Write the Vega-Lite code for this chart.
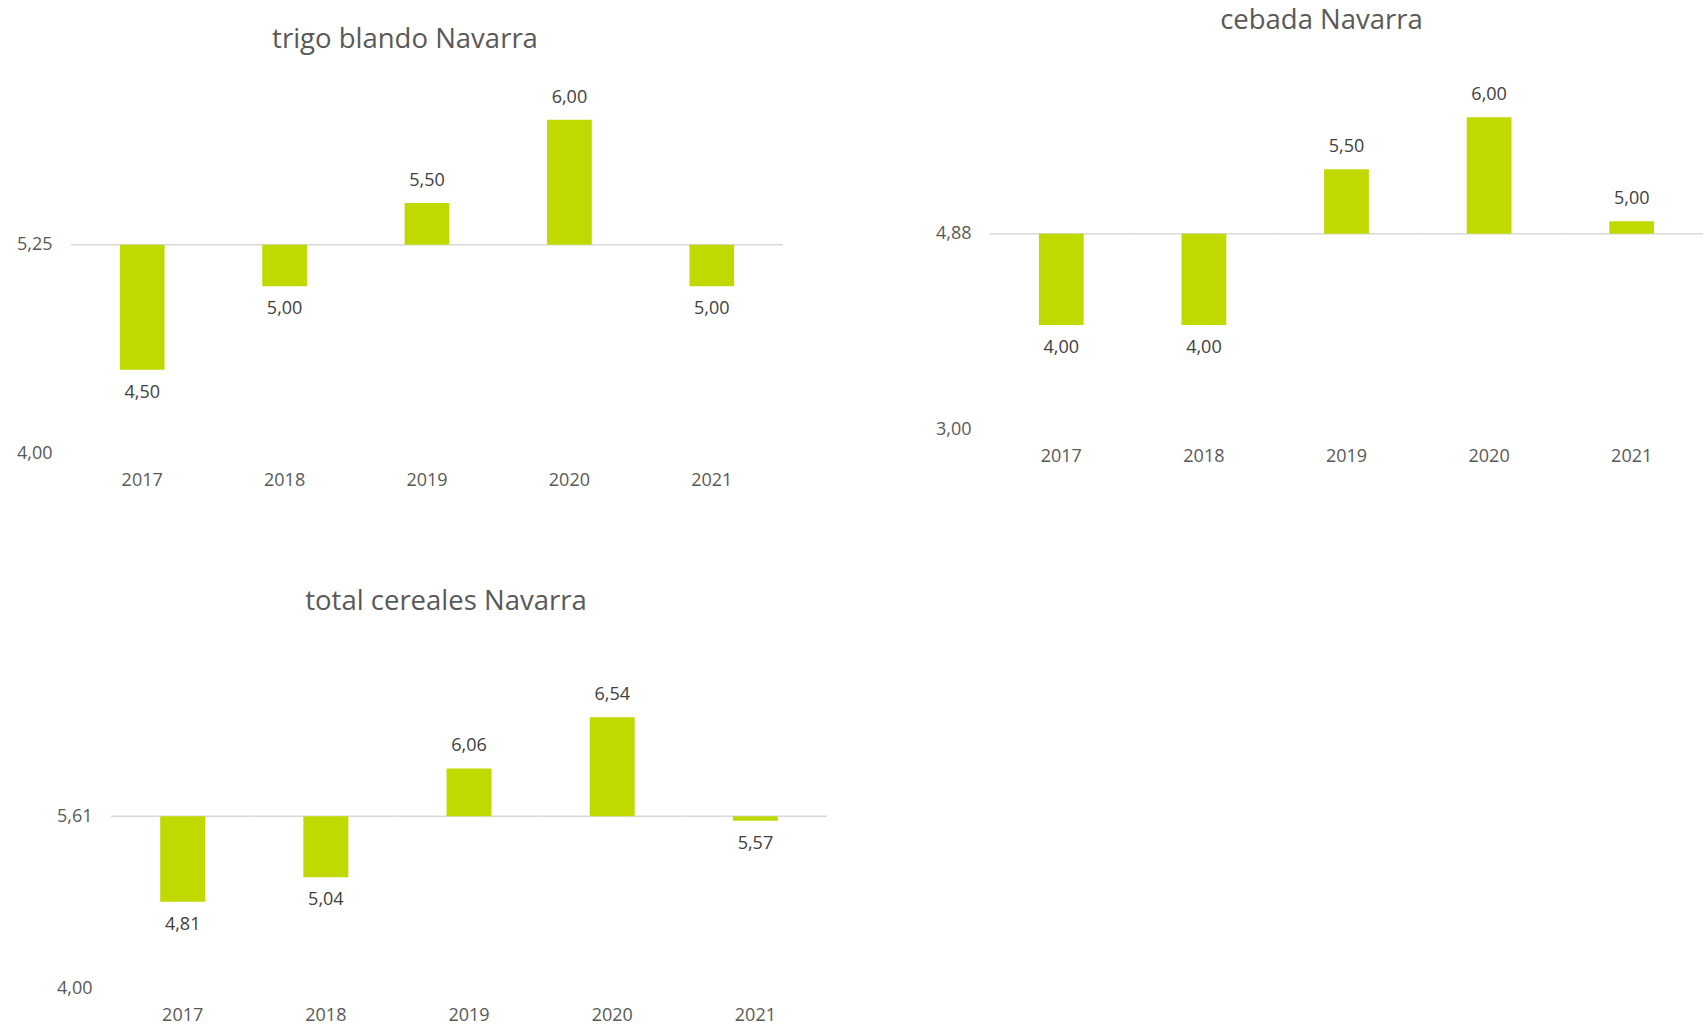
{
  "$schema": "https://vega.github.io/schema/vega-lite/v6.json",
  "padding": {"left": 16, "top": 6, "right": 0, "bottom": 0},
  "background": "white",
  "columns": 2,
  "bounds": "flush",
  "align": "each",
  "spacing": {"row": 188, "column": 163},
  "config": {
    "locale": {"number": {"decimal": ",", "thousands": ".", "grouping": [3], "currency": ["", " €"]}},
    "view": {"stroke": null},
    "font": "Open Sans",
    "axis": {"labelFont": "Open Sans", "labelFontSize": 18, "labelColor": "#595959", "domain": false, "ticks": false, "grid": false, "title": null},
    "title": {"font": "Open Sans", "color": "#595959", "fontWeight": "normal", "fontSize": 27.5},
    "text": {"font": "Open Sans", "fontSize": 18, "color": "#404040"}
  },
  "datasets": {
    "trigo": [
      {"year": "2017", "value": 4.50},
      {"year": "2018", "value": 5.00},
      {"year": "2019", "value": 5.50},
      {"year": "2020", "value": 6.00},
      {"year": "2021", "value": 5.00}
    ],
    "cebada": [
      {"year": "2017", "value": 4.00},
      {"year": "2018", "value": 4.00},
      {"year": "2019", "value": 5.50},
      {"year": "2020", "value": 6.00},
      {"year": "2021", "value": 5.00}
    ],
    "total": [
      {"year": "2017", "value": 4.81},
      {"year": "2018", "value": 5.04},
      {"year": "2019", "value": 6.06},
      {"year": "2020", "value": 6.54},
      {"year": "2021", "value": 5.57}
    ]
  },
  "concat": [
    {
      "width": 712, "height": 378,
      "title": {"text": "trigo blando Navarra", "frame": "group", "anchor": "middle", "baseline": "alphabetic", "offset": 0, "dx": -22},
      "data": {"name": "trigo"},
      "encoding": {"x": {"field": "year", "type": "ordinal", "scale": {"paddingInner": 0, "paddingOuter": 0}, "axis": {"labelAngle": 0, "labelPadding": 18, "labelBaseline": "top"}}},
      "layer": [
        {"mark": {"type": "bar", "color": "#d9d9d9", "stroke": "#d9d9d9", "strokeWidth": 1.5, "width": {"band": 1}},
         "encoding": {"y": {"datum": 5.25, "type": "quantitative", "scale": {"domain": [4, 6.268], "zero": false, "nice": false}, "axis": {"values": [4, 5.25], "format": ".2f", "labelPadding": 19}}, "y2": {"datum": 5.25}}},
        {"mark": {"type": "bar", "color": "#c0d900", "width": {"band": 0.314}},
         "encoding": {"y": {"field": "value", "type": "quantitative"}, "y2": {"datum": 5.25}}},
        {"transform": [{"filter": "datum.value > 5.25"}], "mark": {"type": "text", "dy": -22},
         "encoding": {"y": {"field": "value", "type": "quantitative"}, "text": {"field": "value", "type": "quantitative", "format": ".2f"}}},
        {"transform": [{"filter": "datum.value < 5.25"}], "mark": {"type": "text", "dy": 23},
         "encoding": {"y": {"field": "value", "type": "quantitative"}, "text": {"field": "value", "type": "quantitative", "format": ".2f"}}}
      ]
    },
    {
      "width": 713, "height": 354,
      "title": {"text": "cebada Navarra", "frame": "group", "anchor": "middle", "baseline": "alphabetic", "offset": 19, "dx": -25},
      "data": {"name": "cebada"},
      "encoding": {"x": {"field": "year", "type": "ordinal", "scale": {"paddingInner": 0, "paddingOuter": 0}, "axis": {"labelAngle": 0, "labelPadding": 18, "labelBaseline": "top"}}},
      "layer": [
        {"mark": {"type": "bar", "color": "#d9d9d9", "stroke": "#d9d9d9", "strokeWidth": 1.5, "width": {"band": 1}},
         "encoding": {"y": {"datum": 4.88, "type": "quantitative", "scale": {"domain": [3, 6.407], "zero": false, "nice": false}, "axis": {"values": [3, 4.88], "format": ".2f", "labelPadding": 19}}, "y2": {"datum": 4.88}}},
        {"mark": {"type": "bar", "color": "#c0d900", "width": {"band": 0.314}},
         "encoding": {"y": {"field": "value", "type": "quantitative"}, "y2": {"datum": 4.88}}},
        {"transform": [{"filter": "datum.value > 4.88"}], "mark": {"type": "text", "dy": -22},
         "encoding": {"y": {"field": "value", "type": "quantitative"}, "text": {"field": "value", "type": "quantitative", "format": ".2f"}}},
        {"transform": [{"filter": "datum.value < 4.88"}], "mark": {"type": "text", "dy": 23},
         "encoding": {"y": {"field": "value", "type": "quantitative"}, "text": {"field": "value", "type": "quantitative", "format": ".2f"}}}
      ]
    },
    {
      "width": 756, "height": 347,
      "title": {"text": "total cereales Navarra", "frame": "group", "anchor": "middle", "baseline": "alphabetic", "offset": 4, "dx": -3},
      "data": {"name": "total"},
      "encoding": {"x": {"field": "year", "type": "ordinal", "scale": {"paddingInner": 0, "paddingOuter": 0.14, "align": 1}, "axis": {"labelAngle": 0, "labelPadding": 18, "labelBaseline": "top"}}},
      "layer": [
        {"mark": {"type": "bar", "color": "#d9d9d9", "stroke": "#d9d9d9", "strokeWidth": 1.5, "width": {"band": 1}},
         "encoding": {"y": {"datum": 5.61, "type": "quantitative", "scale": {"domain": [4, 7.255], "zero": false, "nice": false}, "axis": {"values": [4, 5.61], "format": ".2f", "labelPadding": 19, "offset": -40}}, "y2": {"datum": 5.61}}},
        {"mark": {"type": "bar", "color": "#c0d900", "width": {"band": 0.314}},
         "encoding": {"y": {"field": "value", "type": "quantitative"}, "y2": {"datum": 5.61}}},
        {"transform": [{"filter": "datum.value > 5.61"}], "mark": {"type": "text", "dy": -22},
         "encoding": {"y": {"field": "value", "type": "quantitative"}, "text": {"field": "value", "type": "quantitative", "format": ".2f"}}},
        {"transform": [{"filter": "datum.value < 5.61"}], "mark": {"type": "text", "dy": 23},
         "encoding": {"y": {"field": "value", "type": "quantitative"}, "text": {"field": "value", "type": "quantitative", "format": ".2f"}}}
      ]
    }
  ]
}
